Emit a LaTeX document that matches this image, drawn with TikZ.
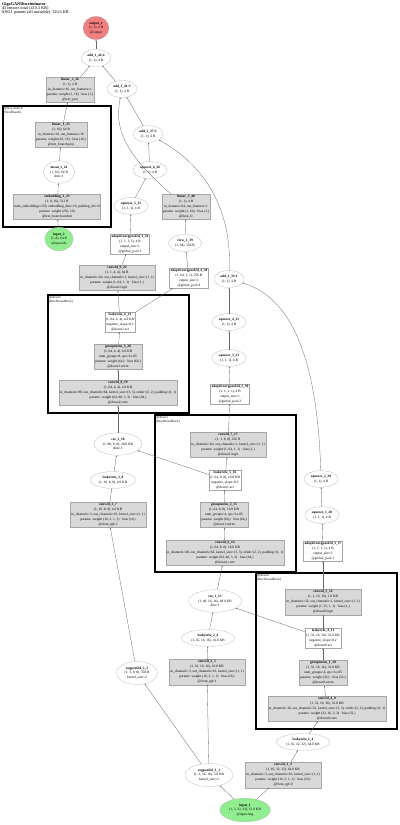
\documentclass[tikz,border=0pt]{standalone}
\usepackage{fontspec}
\setmainfont{Liberation Serif}
\usepackage{xcolor}
\usepackage{tikz}
\usetikzlibrary{shapes.geometric, arrows.meta, positioning, fit}

\definecolor{inputgreen}{HTML}{90EE90}
\definecolor{outputred}{HTML}{F08080}

\begin{document}
\begin{tikzpicture}[
    x=2pt, y=-2pt,
    tensor/.style={
        ellipse, draw=gray!70, fill=white,
        align=center, inner sep=4pt,
        font=\fontsize{7}{9.5}\selectfont
    },
    layer/.style={
        rectangle, draw=gray!70, fill=gray!30,
        align=center, inner sep=2pt,
        font=\fontsize{7}{10}\selectfont
    },
    plainlayer/.style={layer, fill=white},
    inport/.style={tensor, fill=inputgreen},
    outport/.style={tensor, fill=outputred},
    cluster/.style={draw=black, line width=2.2pt, inner sep=0pt},
    clabel/.style={font=\fontsize{6.5}{7.5}\selectfont, align=left, inner sep=0pt},
    edge/.style={-{Stealth[length=3.5pt, width=2.6pt]}, draw=gray!80!black, line width=0.6pt}
]
\useasboundingbox (0,0) rectangle (400,825);

% ── Title ──
\node[anchor=north west, align=left, inner sep=0pt, font=\fontsize{8.5}{8.5}\selectfont] (title) at (2,2)
    {\textbf{GigaGANDiscriminator}\\45 tensors total (410.3 KB)\\83621 params (all trainable), 326.6 KB};

% ── Clusters ──
\node[cluster, fit={(3,106)(111,227)}] (textbranch) {};
\node[cluster, fit={(48,295)(189,413)}] (down2) {};
\node[cluster, fit={(155,415)(296,572)}] (down1) {};
\node[cluster, fit={(256,573)(397,729)}] (down0) {};
\node[clabel, below right=3pt and 3pt of textbranch.north west] (textbranchlbl) {@text\_branch\\(TextBranch)};
\node[clabel, below right=3pt and 3pt of down2.north west] (down2lbl) {@down2\\(DiscDownBlock)};
\node[clabel, below right=3pt and 3pt of down1.north west] (down1lbl) {@down1\\(DiscDownBlock)};
\node[clabel, below right=3pt and 3pt of down0.north west] (down0lbl) {@down0\\(DiscDownBlock)};

% ── Head ──
\node[outport] (out1) at (96,28) {\textbf{output\_1}\\(1, 1), 4 B\\@output};
\node[tensor] (add42) at (96,58) {\textbf{add\_1\_42:4}\\(1, 1), 4 B};
\node[layer] (lin26) at (70,90) {\textbf{linear\_2\_26}\\(1, 1), 4 B\\in\_features=16, out\_features=1\\params: weight (1, 16) · bias (1,)\\@text\_proj};
\node[tensor] (add41) at (122,89) {\textbf{add\_1\_41:3}\\(1, 1), 4 B};
\node[tensor] (add37) at (148,134) {\textbf{add\_1\_37:2}\\(1, 1), 4 B};

% ── Text branch ──
\node[layer] (lin25) at (61,135) {\textbf{linear\_1\_25}\\(1, 16), 64 B\\in\_features=16, out\_features=16\\params: weight (16, 16) · bias (16,)\\@text\_branch.proj};
\node[tensor] (mean24) at (59,172) {\textbf{mean\_1\_24}\\(1, 16), 64 B\\dim=1};
\node[layer] (emb23) at (57,207) {\textbf{embedding\_1\_23}\\(1, 8, 16), 512 B\\num\_embeddings=256, embedding\_dim=16, padding\_idx=0\\params: weight (256, 16)\\@text\_branch.embed};
\node[inport] (in2) at (59,239) {\textbf{input\_2}\\(1, 8), 64 B\\@input.ids};

% ── Logit heads ──
\node[tensor] (sq36) at (150,170) {\textbf{squeeze\_6\_36}\\(1, 1), 4 B};
\node[tensor] (sq35) at (131,206) {\textbf{squeeze\_5\_35}\\(1, 1, 1), 4 B};
\node[layer] (lin40) at (186,207) {\textbf{linear\_3\_40}\\(1, 1), 4 B\\in\_features=64, out\_features=1\\params: weight (1, 64) · bias (1,)\\@final\_fc};
\node[plainlayer] (pool34) at (130,244) {\textbf{adaptiveavgpool2d\_3\_34}\\(1, 1, 1, 1), 4 B\\output\_size=1\\@global\_pool.3};
\node[tensor] (view39) at (185,243) {\textbf{view\_1\_39}\\(1, 64), 256 B};
\node[layer] (conv22) at (117,278) {\textbf{conv2d\_9\_22}\\(1, 1, 4, 4), 64 B\\in\_channels=64, out\_channels=1, kernel\_size=(1, 1)\\params: weight (1, 64, 1, 1) · bias (1,)\\@down2.logit};
\node[plainlayer] (pool38) at (189,278) {\textbf{adaptiveavgpool2d\_4\_38}\\(1, 64, 1, 1), 256 B\\output\_size=1\\@global\_pool.4};
\node[tensor] (add33) at (229,279) {\textbf{add\_1\_33:1}\\(1, 1), 4 B};
\node[tensor] (sq32) at (229,322) {\textbf{squeeze\_4\_32}\\(1, 1), 4 B};
\node[tensor] (sq31) at (229,358) {\textbf{squeeze\_3\_31}\\(1, 1, 1), 4 B};
\node[plainlayer] (pool30) at (230,394) {\textbf{adaptiveavgpool2d\_2\_30}\\(1, 1, 1, 1), 4 B\\output\_size=1\\@global\_pool.2};
\node[tensor] (sq29) at (321,479) {\textbf{squeeze\_2\_29}\\(1, 1), 4 B};
\node[tensor] (sq28) at (322,515) {\textbf{squeeze\_1\_28}\\(1, 1, 1), 4 B};
\node[plainlayer] (pool27) at (323,551) {\textbf{adaptiveavgpool2d\_1\_27}\\(1, 1, 1, 1), 4 B\\output\_size=1\\@global\_pool.1};

% ── down2 ──
\node[plainlayer] (lrelu21) at (120,322) {\textbf{leakyrelu\_6\_21}\\(1, 64, 4, 4), 4.0 KB\\negative\_slope=0.2\\@down2.act};
\node[layer] (gn20) at (118,357) {\textbf{groupnorm\_3\_20}\\(1, 64, 4, 4), 4.0 KB\\num\_groups=8, eps=1e-05\\params: weight (64,) · bias (64,)\\@down2.norm};
\node[layer] (conv19) at (118,393) {\textbf{conv2d\_8\_19}\\(1, 64, 4, 4), 4.0 KB\\in\_channels=80, out\_channels=64, kernel\_size=(3, 3), stride=(2, 2), padding=(1, 1)\\params: weight (64, 80, 3, 3) · bias (64,)\\@down2.conv};
\node[tensor] (cat18) at (118,444) {\textbf{cat\_2\_18}\\(1, 80, 8, 8), 20.0 KB\\dim=1};
\node[tensor] (lrelu8) at (113,480) {\textbf{leakyrelu\_3\_8}\\(1, 16, 8, 8), 4.0 KB};
\node[layer] (conv7) at (108,515) {\textbf{conv2d\_3\_7}\\(1, 16, 8, 8), 4.0 KB\\in\_channels=3, out\_channels=16, kernel\_size=(1, 1)\\params: weight (16, 3, 1, 1) · bias (16,)\\@from\_rgb.2};

% ── down1 ──
\node[layer] (conv17) at (228,445) {\textbf{conv2d\_7\_17}\\(1, 1, 8, 8), 256 B\\in\_channels=64, out\_channels=1, kernel\_size=(1, 1)\\params: weight (1, 64, 1, 1) · bias (1,)\\@down1.logit};
\node[plainlayer] (lrelu16) at (225,480) {\textbf{leakyrelu\_5\_16}\\(1, 64, 8, 8), 16.0 KB\\negative\_slope=0.2\\@down1.act};
\node[layer] (gn15) at (224,515) {\textbf{groupnorm\_2\_15}\\(1, 64, 8, 8), 16.0 KB\\num\_groups=4, eps=1e-05\\params: weight (64,) · bias (64,)\\@down1.norm};
\node[layer] (conv14) at (225,553) {\textbf{conv2d\_6\_14}\\(1, 64, 8, 8), 16.0 KB\\in\_channels=48, out\_channels=64, kernel\_size=(3, 3), stride=(2, 2), padding=(1, 1)\\params: weight (64, 48, 3, 3) · bias (64,)\\@down1.conv};
\node[tensor] (cat13) at (215,601) {\textbf{cat\_1\_13}\\(1, 48, 16, 16), 48.0 KB\\dim=1};
\node[tensor] (lrelu6) at (208,638) {\textbf{leakyrelu\_2\_6}\\(1, 16, 16, 16), 16.0 KB};
\node[layer] (conv5) at (207,672) {\textbf{conv2d\_2\_5}\\(1, 16, 16, 16), 16.0 KB\\in\_channels=3, out\_channels=16, kernel\_size=(1, 1)\\params: weight (16, 3, 1, 1) · bias (16,)\\@from\_rgb.1};
\node[tensor] (avg2) at (137,673) {\textbf{avgpool2d\_2\_2}\\(1, 3, 8, 8), 768 B\\kernel\_size=2};

% ── down0 ──
\node[layer] (conv12) at (323,602) {\textbf{conv2d\_5\_12}\\(1, 1, 16, 16), 1.0 KB\\in\_channels=32, out\_channels=1, kernel\_size=(1, 1)\\params: weight (1, 32, 1, 1) · bias (1,)\\@down0.logit};
\node[plainlayer] (lrelu11) at (323,638) {\textbf{leakyrelu\_4\_11}\\(1, 32, 16, 16), 32.0 KB\\negative\_slope=0.2\\@down0.act};
\node[layer] (gn10) at (323,673) {\textbf{groupnorm\_1\_10}\\(1, 32, 16, 16), 32.0 KB\\num\_groups=4, eps=1e-05\\params: weight (32,) · bias (32,)\\@down0.norm};
\node[layer] (conv9) at (327,709) {\textbf{conv2d\_4\_9}\\(1, 32, 16, 16), 32.0 KB\\in\_channels=16, out\_channels=32, kernel\_size=(3, 3), stride=(2, 2), padding=(1, 1)\\params: weight (32, 16, 3, 3) · bias (32,)\\@down0.conv};
\node[tensor] (lrelu4) at (303,742) {\textbf{leakyrelu\_1\_4}\\(1, 16, 32, 32), 64.0 KB};
\node[layer] (conv3) at (283,775) {\textbf{conv2d\_1\_3}\\(1, 16, 32, 32), 64.0 KB\\in\_channels=3, out\_channels=16, kernel\_size=(1, 1)\\params: weight (16, 3, 1, 1) · bias (16,)\\@from\_rgb.0};
\node[tensor] (avg1) at (209,775) {\textbf{avgpool2d\_1\_1}\\(1, 3, 16, 16), 3.0 KB\\kernel\_size=2};
\node[inport] (in1) at (245,810) {\textbf{input\_1}\\(1, 3, 32, 32), 12.0 KB\\@input.img};

% ── Edges ──
\draw[edge] (in1) -- (avg1);
\draw[edge] (in1) -- (conv3);
\draw[edge] (conv3) -- (lrelu4);
\draw[edge] (lrelu4) -- (conv9);
\draw[edge] (conv9) -- (gn10);
\draw[edge] (gn10) -- (lrelu11);
\draw[edge] (lrelu11) -- (conv12);
\draw[edge] (lrelu11) -- (cat13);
\draw[edge] (conv12) -- (pool27);
\draw[edge] (pool27) -- (sq28);
\draw[edge] (sq28) -- (sq29);
\draw[edge] (sq29) .. controls (318,380) and (300,300) .. (add33);
\draw[edge] (avg1) -- (avg2);
\draw[edge] (avg1) -- (conv5);
\draw[edge] (conv5) -- (lrelu6);
\draw[edge] (lrelu6) -- (cat13);
\draw[edge] (cat13) -- (conv14);
\draw[edge] (conv14) -- (gn15);
\draw[edge] (gn15) -- (lrelu16);
\draw[edge] (lrelu16) -- (conv17);
\draw[edge] (lrelu16) -- (cat18);
\draw[edge] (conv17) -- (pool30);
\draw[edge] (pool30) -- (sq31);
\draw[edge] (sq31) -- (sq32);
\draw[edge] (sq32) -- (add33);
\draw[edge] (avg2) -- (conv7);
\draw[edge] (conv7) -- (lrelu8);
\draw[edge] (lrelu8) -- (cat18);
\draw[edge] (cat18) -- (conv19);
\draw[edge] (conv19) -- (gn20);
\draw[edge] (gn20) -- (lrelu21);
\draw[edge] (lrelu21) -- (conv22);
\draw[edge] (lrelu21) -- (pool38);
\draw[edge] (conv22) -- (pool34);
\draw[edge] (pool34) -- (sq35);
\draw[edge] (sq35) -- (sq36);
\draw[edge] (sq36) -- (add37);
\draw[edge] (add33) .. controls (232,210) and (205,165) .. (add37);
\draw[edge] (pool38) -- (view39);
\draw[edge] (view39) -- (lin40);
\draw[edge] (lin40) .. controls (120,150) and (115,125) .. (add41);
\draw[edge] (add37) -- (add41);
\draw[edge] (add41) -- (add42);
\draw[edge] (in2) -- (emb23);
\draw[edge] (emb23) -- (mean24);
\draw[edge] (mean24) -- (lin25);
\draw[edge] (lin25) -- (lin26);
\draw[edge] (lin26) -- (add42);
\draw[edge] (add42) -- (out1);

\end{tikzpicture}
\end{document}
